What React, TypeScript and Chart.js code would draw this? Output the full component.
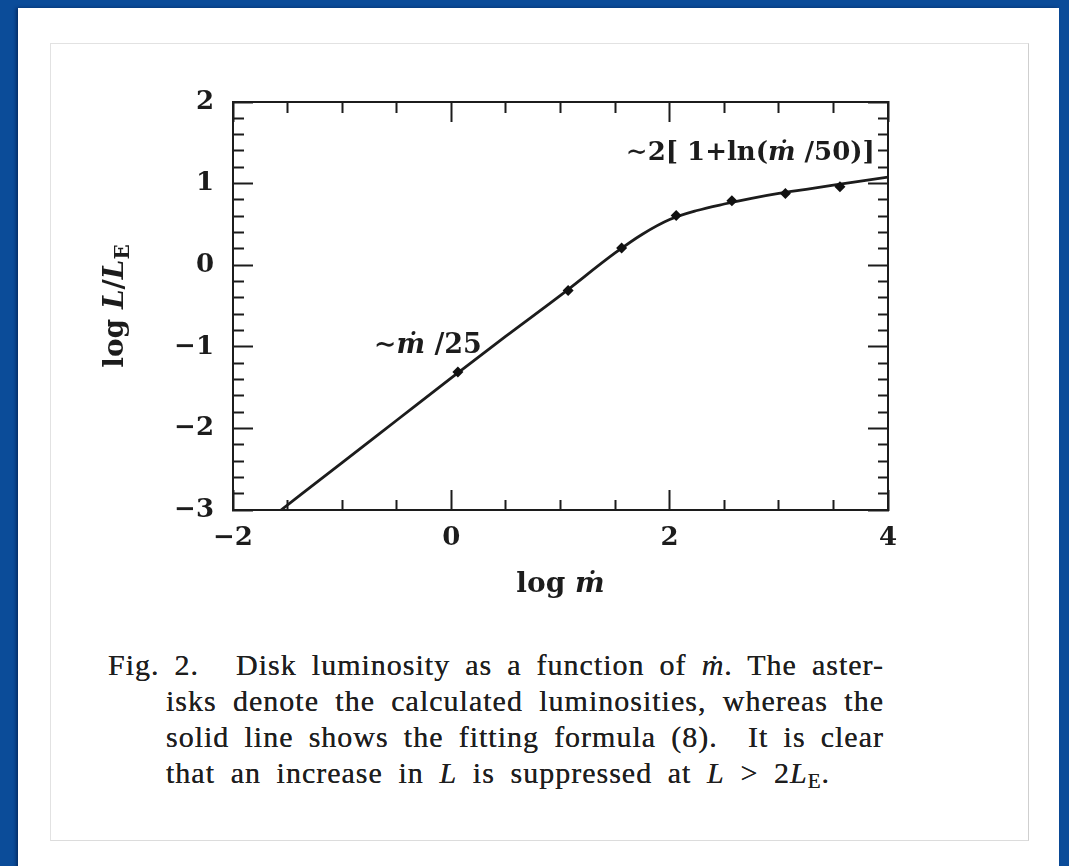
import React, { useEffect, useRef } from 'react';
import { Chart, registerables } from 'chart.js';

Chart.register(...registerables);

// ---- data ----
// calculated luminosities (asterisks)
const LOG_MDOT_POINTS = [0.06, 1.07, 1.56, 2.06, 2.57, 3.06, 3.56];
const LOG_L_POINTS = [-1.31, -0.31, 0.21, 0.61, 0.79, 0.88, 0.96];

// fitting formula (solid line), sampled along the drawn curve
const LOG_MDOT_FIT = [-1.56, -1.0, -0.5, 0.0, 0.5, 1.0, 1.5, 1.75, 2.0, 2.25, 2.5, 2.75, 3.0, 3.25, 3.5, 3.75, 4.0];
const LOG_L_FIT = [-3.0, -2.42, -1.9, -1.38, -0.87, -0.37, 0.15, 0.38, 0.56, 0.67, 0.75, 0.82, 0.88, 0.93, 0.98, 1.03, 1.08];

// axes
const X_MIN = -2;
const X_MAX = 4;
const Y_MIN = -3;
const Y_MAX = 2;
const X_MAJOR_TICKS = [-2, 0, 2, 4];
const Y_MAJOR_TICKS = [-3, -2, -1, 0, 1, 2];
const X_MINOR_STEP = 0.5;
const Y_MINOR_STEP = 0.2;

// ---- styles ----
const INK = '#1c1c1c';
const BLUE = '#0b4c99';
const CHART_FONT = '"DejaVu Serif", serif';
const MAJOR_LEN = 20;
const MINOR_LEN = 11;

type Run = { t: string; italic?: boolean; sub?: boolean };

const isMajor = (v: number, majors: number[]) => majors.some((m) => Math.abs(m - v) < 1e-6);
const fmt = (v: number) => {
  const r = Math.round(v);
  return r < 0 ? '\u2212' + Math.abs(r) : String(r);
};

function runFont(r: Run, size: number, weight: string) {
  const s = r.sub ? Math.round(size * 0.7) : size;
  return `${r.italic ? 'italic ' : ''}${weight} ${s}px ${CHART_FONT}`;
}
function measureRuns(ctx: CanvasRenderingContext2D, runs: Run[], size: number, weight: string) {
  let w = 0;
  for (const r of runs) {
    ctx.font = runFont(r, size, weight);
    w += ctx.measureText(r.t).width;
  }
  return w;
}
function drawRuns(ctx: CanvasRenderingContext2D, runs: Run[], x: number, y: number, size: number, weight: string) {
  let cx = x;
  for (const r of runs) {
    ctx.font = runFont(r, size, weight);
    ctx.fillText(r.t, cx, y + (r.sub ? size * 0.28 : 0));
    cx += ctx.measureText(r.t).width;
  }
}

// text annotations placed in data coordinates
const ANNOTATIONS: { runs: Run[]; x: number; y: number; align: 'left' | 'right'; size: number }[] = [
  { runs: [{ t: '\u223C' }, { t: '\u1E41', italic: true }, { t: ' /25' }], x: -0.71, y: -1.07, align: 'left', size: 27 },
  {
    runs: [{ t: '\u223C2[ 1+ln(' }, { t: '\u1E41', italic: true }, { t: ' /50)]' }],
    x: 3.88,
    y: 1.29,
    align: 'right',
    size: 26,
  },
];

const X_TITLE: Run[] = [{ t: 'log ' }, { t: '\u1E41', italic: true }];
const Y_TITLE: Run[] = [{ t: 'log ' }, { t: 'L', italic: true }, { t: '/' }, { t: 'L', italic: true }, { t: 'E', sub: true }];

const textPlugin = {
  id: 'richText',
  afterDraw(chart: any) {
    const { ctx, chartArea, scales } = chart;
    const xs = scales.x;
    const ys = scales.y;
    ctx.save();
    ctx.fillStyle = INK;
    ctx.textAlign = 'left';
    ctx.textBaseline = 'alphabetic';
    for (const a of ANNOTATIONS) {
      const w = measureRuns(ctx, a.runs, a.size, 'bold');
      let px = xs.getPixelForValue(a.x);
      if (a.align === 'right') px -= w;
      drawRuns(ctx, a.runs, px, ys.getPixelForValue(a.y), a.size, 'bold');
    }
    // x title
    const tSize = 28;
    const wx = measureRuns(ctx, X_TITLE, tSize, 'bold');
    drawRuns(ctx, X_TITLE, (chartArea.left + chartArea.right) / 2 - wx / 2, chartArea.bottom + 82, tSize, 'bold');
    // y title
    const wy = measureRuns(ctx, Y_TITLE, tSize, 'bold');
    ctx.translate(chartArea.left - 117, (chartArea.top + chartArea.bottom) / 2);
    ctx.rotate(-Math.PI / 2);
    ctx.textBaseline = 'middle';
    drawRuns(ctx, Y_TITLE, -wy / 2, 0, tSize, 'bold');
    ctx.restore();
  },
};

function grid(majors: number[], dashFromBorder: boolean) {
  return {
    display: true,
    drawOnChartArea: false,
    drawTicks: true,
    tickLength: -MAJOR_LEN,
    tickWidth: 2,
    tickColor: INK,
    tickBorderDash: (c: any) =>
      c.tick && isMajor(c.tick.value, majors)
        ? []
        : dashFromBorder
        ? [MINOR_LEN, 100]
        : [0, MAJOR_LEN - MINOR_LEN, MINOR_LEN, 100],
  };
}

const border = { display: true, color: INK, width: 2 };
const tickFont = { family: CHART_FONT, size: 26, weight: 'bold' as const };

export default function App() {
  const ref = useRef<HTMLCanvasElement>(null);

  useEffect(() => {
    const canvas = ref.current;
    if (!canvas) return;
    const chart = new Chart(canvas, {
      type: 'line',
      data: {
        datasets: [
          {
            label: 'calculated',
            data: LOG_MDOT_POINTS.map((x, i) => ({ x, y: LOG_L_POINTS[i] })),
            showLine: false,
            pointStyle: 'rectRot',
            pointRadius: 5.5,
            pointBackgroundColor: '#111',
            pointBorderWidth: 0,
            order: 0,
          },
          {
            label: 'fit',
            data: LOG_MDOT_FIT.map((x, i) => ({ x, y: LOG_L_FIT[i] })),
            borderColor: INK,
            borderWidth: 2.8,
            pointRadius: 0,
            cubicInterpolationMode: 'monotone',
            fill: false,
            order: 1,
          },
        ],
      },
      options: {
        animation: false,
        responsive: false,
        maintainAspectRatio: false,
        events: [],
        layout: { padding: { left: 0, right: 140, top: 59, bottom: 0 } },
        plugins: { legend: { display: false }, tooltip: { enabled: false }, title: { display: false } },
        scales: {
          x: {
            type: 'linear',
            position: 'bottom',
            min: X_MIN,
            max: X_MAX,
            border,
            grid: grid(X_MAJOR_TICKS, true),
            ticks: {
              stepSize: X_MINOR_STEP,
              autoSkip: false,
              maxRotation: 0,
              padding: 33,
              color: INK,
              font: tickFont,
              callback: (v: any) => (isMajor(Number(v), X_MAJOR_TICKS) ? fmt(Number(v)) : ''),
            },
            afterFit: (s: any) => {
              s.height = 113;
            },
          },
          xTop: {
            type: 'linear',
            position: 'top',
            min: X_MIN,
            max: X_MAX,
            border,
            grid: grid(X_MAJOR_TICKS, false),
            ticks: { stepSize: X_MINOR_STEP, autoSkip: false, display: false },
            afterFit: (s: any) => {
              s.height = 0;
            },
          },
          y: {
            type: 'linear',
            position: 'left',
            min: Y_MIN,
            max: Y_MAX,
            border,
            grid: grid(Y_MAJOR_TICKS, false),
            ticks: {
              stepSize: Y_MINOR_STEP,
              autoSkip: false,
              padding: 39,
              color: INK,
              font: tickFont,
              callback: (v: any) => (isMajor(Number(v), Y_MAJOR_TICKS) ? fmt(Number(v)) : ''),
            },
            afterFit: (s: any) => {
              s.width = 183;
            },
          },
          yRight: {
            type: 'linear',
            position: 'right',
            min: Y_MIN,
            max: Y_MAX,
            border,
            grid: grid(Y_MAJOR_TICKS, true),
            ticks: { stepSize: Y_MINOR_STEP, autoSkip: false, display: false },
            afterFit: (s: any) => {
              s.width = 0;
            },
          },
        },
      } as any,
      plugins: [textPlugin],
    });
    return () => chart.destroy();
  }, []);

  const cap: React.CSSProperties = {
    position: 'absolute',
    fontFamily: '"Liberation Serif", serif',
    fontSize: 30,
    lineHeight: '36px',
    letterSpacing: 1,
    color: '#1e1e1e',
    textShadow: '0 0 0.5px #333',
    textAlign: 'justify',
    textAlignLast: 'justify',
    whiteSpace: 'normal',
  };
  const sub: React.CSSProperties = { fontSize: '0.7em', verticalAlign: '-0.25em', lineHeight: 0, fontStyle: 'normal' };

  return (
    <div style={{ position: 'absolute', left: 0, top: 0, width: 1069, height: 866, background: BLUE, overflow: 'hidden' }}>
      <div
        style={{
          position: 'absolute',
          left: 18,
          top: 8,
          width: 1041,
          height: 870,
          background: '#ffffff',
          boxShadow: '-2px 0 3px rgba(0,20,60,0.55)',
        }}
      />
      <div
        style={{
          position: 'absolute',
          left: 50,
          top: 43,
          width: 979,
          height: 798,
          boxSizing: 'border-box',
          borderTop: '1px solid #e2e2e2',
          borderLeft: '1px solid #e2e2e2',
          borderRight: '1px solid #cfcfcf',
          borderBottom: '1px solid #dcdcdc',
          background: '#ffffff',
        }}
      />
      <canvas
        ref={ref}
        width={978}
        height={580}
        style={{ position: 'absolute', left: 50, top: 43, width: 978, height: 580 }}
      />
      <div style={{ ...cap, left: 108, top: 647, width: 776 }}>
        <span style={{ marginRight: 22 }}>Fig. 2.</span> Disk luminosity as a function of <i>ṁ</i>. The aster-
      </div>
      <div style={{ ...cap, left: 166, top: 683, width: 718 }}>
        isks denote the calculated luminosities, whereas the
      </div>
      <div style={{ ...cap, left: 166, top: 719, width: 718 }}>
        solid line shows the fitting formula (8).&nbsp; It is clear
      </div>
      <div style={{ ...cap, left: 166, top: 755, width: 664 }}>
        that an increase in <i>L</i> is suppressed at <i>L</i> &gt; 2<i>L</i>
        <span style={sub}>E</span>.
      </div>
    </div>
  );
}
